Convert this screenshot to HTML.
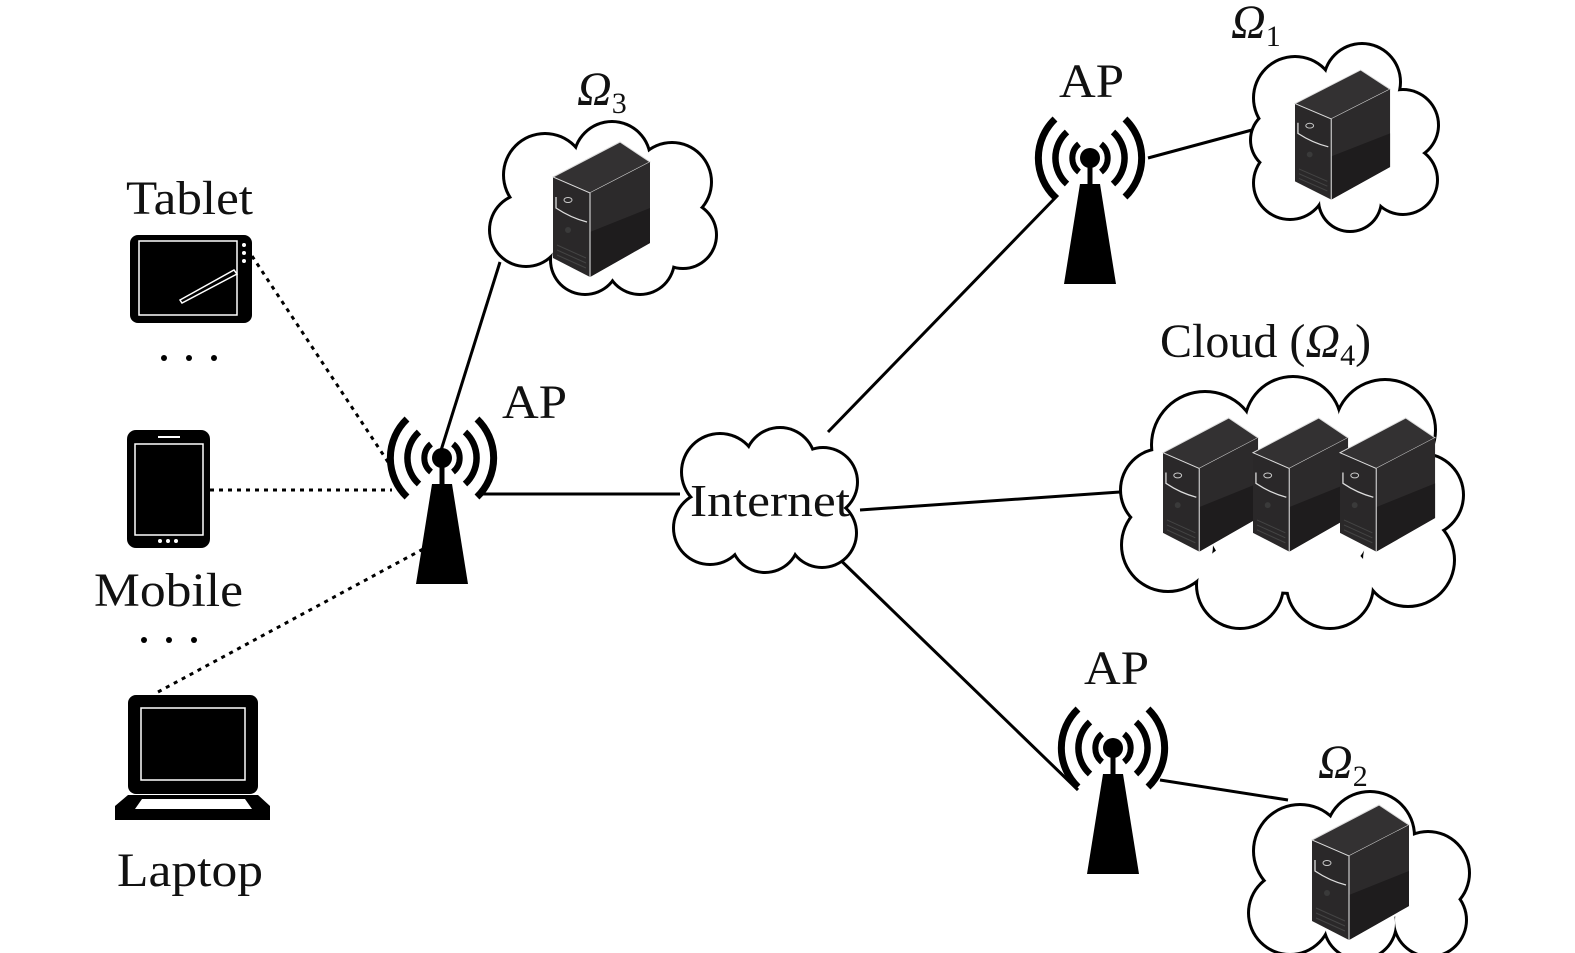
<!DOCTYPE html>
<html><head><meta charset="utf-8"><style>
html,body{margin:0;padding:0;background:#fff;}
svg{display:block;}
text{font-family:"Liberation Serif",serif;fill:#111;}
</style></head><body>
<svg width="1575" height="953" viewBox="0 0 1575 953" xmlns="http://www.w3.org/2000/svg">
<defs>
<g id="srv">
  <polygon points="0,35 37,51 37,135 0,116" fill="#2a2829"/>
  <polygon points="0,35 67,0 97,20 37,51" fill="#333132" stroke="#ddd" stroke-width="1"/>
  <polygon points="37,51 97,20 97,101 37,135" fill="#2c2a2b"/>
  <polygon points="37,90 97,66 97,101 37,135" fill="#1e1c1d"/>
  <line x1="37" y1="51" x2="37" y2="135" stroke="#ccc" stroke-width="1.2"/>
  <path d="M3,55 L3,66 Q18,76 34,80" fill="none" stroke="#ddd" stroke-width="1.3"/>
  <ellipse cx="15" cy="58" rx="4" ry="2.5" fill="none" stroke="#ccc" stroke-width="1"/>
  <circle cx="15" cy="88" r="3" fill="#3a3a3a"/>
  <path d="M4,103 L33,116 M4,108 L33,121 M4,113 L33,126" stroke="#444" stroke-width="1"/>
</g>
<g id="ap">
  <g fill="none" stroke="#000" stroke-linecap="butt">
    <path d="M-11,-14 A18,18 0 0 0 -11,14 M11,-14 A18,18 0 0 1 11,14" stroke-width="6"/>
    <path d="M-23,-26 A35,35 0 0 0 -23,26 M23,-26 A35,35 0 0 1 23,26" stroke-width="6.5"/>
    <path d="M-35,-39 A54,54 0 0 0 -35,39 M35,-39 A54,54 0 0 1 35,39" stroke-width="7"/>
  </g>
  <circle cx="0" cy="0" r="10" fill="#000"/>
  <rect x="-2.5" y="0" width="5" height="28" fill="#000"/>
  <polygon points="-10,26 10,26 26,126 -26,126" fill="#000"/>
</g>
</defs>

<g stroke="#000" stroke-width="3" fill="none">
  <line x1="480" y1="494" x2="680" y2="494"/>
  <line x1="438" y1="460" x2="500" y2="262"/>
  <line x1="828" y1="432" x2="1058" y2="195"/>
  <line x1="860" y1="510" x2="1120" y2="492"/>
  <line x1="828" y1="548" x2="1078" y2="790"/>
  <line x1="1148" y1="158" x2="1252" y2="130"/>
  <line x1="1160" y1="780" x2="1288" y2="800"/>
</g>
<g stroke="#000" stroke-width="3" fill="none" stroke-dasharray="4,5">
  <line x1="252" y1="256" x2="390" y2="465"/>
  <line x1="210" y1="490" x2="392" y2="490"/>
  <line x1="158" y1="692" x2="425" y2="548"/>
</g>

<g>
 <g fill="#000"><circle cx="545" cy="175" r="43"/><circle cx="612" cy="160" r="40"/><circle cx="672" cy="182" r="41"/><circle cx="683" cy="235" r="35"/><circle cx="640" cy="260" r="36"/><circle cx="585" cy="260" r="36"/><circle cx="526" cy="230" r="38"/><circle cx="602" cy="210" r="60"/></g>
 <g fill="#fff"><circle cx="545" cy="175" r="40"/><circle cx="612" cy="160" r="37"/><circle cx="672" cy="182" r="38"/><circle cx="683" cy="235" r="32"/><circle cx="640" cy="260" r="33"/><circle cx="585" cy="260" r="33"/><circle cx="526" cy="230" r="35"/><circle cx="602" cy="210" r="57"/></g>
</g>
<g>
 <g fill="#000"><circle cx="1295" cy="98" r="43"/><circle cx="1362" cy="82" r="40"/><circle cx="1403" cy="125" r="37"/><circle cx="1403" cy="180" r="36"/><circle cx="1350" cy="200" r="33"/><circle cx="1290" cy="183" r="38"/><circle cx="1282" cy="140" r="33"/><circle cx="1345" cy="140" r="55"/></g>
 <g fill="#fff"><circle cx="1295" cy="98" r="40"/><circle cx="1362" cy="82" r="37"/><circle cx="1403" cy="125" r="34"/><circle cx="1403" cy="180" r="33"/><circle cx="1350" cy="200" r="30"/><circle cx="1290" cy="183" r="35"/><circle cx="1282" cy="140" r="30"/><circle cx="1345" cy="140" r="52"/></g>
</g>
<g>
 <g fill="#000"><circle cx="1205" cy="445" r="55"/><circle cx="1293" cy="425" r="50"/><circle cx="1385" cy="430" r="52"/><circle cx="1422" cy="495" r="43"/><circle cx="1408" cy="560" r="48"/><circle cx="1330" cy="585" r="45"/><circle cx="1240" cy="585" r="45"/><circle cx="1168" cy="545" r="48"/><circle cx="1162" cy="490" r="43"/><circle cx="1290" cy="505" r="90"/></g>
 <g fill="#fff"><circle cx="1205" cy="445" r="52"/><circle cx="1293" cy="425" r="47"/><circle cx="1385" cy="430" r="49"/><circle cx="1422" cy="495" r="40"/><circle cx="1408" cy="560" r="45"/><circle cx="1330" cy="585" r="42"/><circle cx="1240" cy="585" r="42"/><circle cx="1168" cy="545" r="45"/><circle cx="1162" cy="490" r="40"/><circle cx="1290" cy="505" r="87"/></g>
</g>
<g transform="translate(0,8)">
 <g fill="#000"><circle cx="1300" cy="843" r="48"/><circle cx="1370" cy="828" r="46"/><circle cx="1428" cy="865" r="43"/><circle cx="1430" cy="912" r="38"/><circle cx="1360" cy="915" r="38"/><circle cx="1290" cy="905" r="43"/><circle cx="1360" cy="870" r="55"/></g>
 <g fill="#fff"><circle cx="1300" cy="843" r="45"/><circle cx="1370" cy="828" r="43"/><circle cx="1428" cy="865" r="40"/><circle cx="1430" cy="912" r="35"/><circle cx="1360" cy="915" r="35"/><circle cx="1290" cy="905" r="40"/><circle cx="1360" cy="870" r="52"/></g>
</g>
<g>
 <g fill="#000"><circle cx="720" cy="472" r="40"/><circle cx="780" cy="463" r="37"/><circle cx="823" cy="482" r="36"/><circle cx="822" cy="533" r="36"/><circle cx="765" cy="538" r="36"/><circle cx="710" cy="528" r="38"/><circle cx="766" cy="500" r="50"/></g>
 <g fill="#fff"><circle cx="720" cy="472" r="37"/><circle cx="780" cy="463" r="34"/><circle cx="823" cy="482" r="33"/><circle cx="822" cy="533" r="33"/><circle cx="765" cy="538" r="33"/><circle cx="710" cy="528" r="35"/><circle cx="766" cy="500" r="47"/></g>
</g>

<use href="#srv" transform="translate(553,142)"/>
<use href="#srv" transform="translate(1295,70) scale(0.98,0.96)"/>
<use href="#srv" transform="translate(1312,805)"/>
<use href="#srv" transform="translate(1163,418) scale(0.98,0.99)"/>
<use href="#srv" transform="translate(1253,418) scale(0.98,0.99)"/>
<use href="#srv" transform="translate(1340,418) scale(0.98,0.99)"/>

<use href="#ap" transform="translate(442,458)"/>
<use href="#ap" transform="translate(1090,158)"/>
<use href="#ap" transform="translate(1113,748)"/>

<rect x="130" y="235" width="122" height="88" rx="8" fill="#000"/>
<rect x="139" y="241" width="98" height="74" fill="none" stroke="#fff" stroke-width="1.5"/>
<circle cx="244" cy="245" r="2" fill="#fff"/><circle cx="244" cy="253" r="2" fill="#fff"/><circle cx="244" cy="261" r="2" fill="#fff"/>
<path d="M180,300 L234,270 L237,274 L182,303 Z" fill="none" stroke="#fff" stroke-width="1.5"/>

<rect x="127" y="430" width="83" height="118" rx="9" fill="#000"/>
<rect x="135" y="444" width="68" height="91" fill="none" stroke="#fff" stroke-width="1.5"/>
<line x1="158" y1="437" x2="180" y2="437" stroke="#fff" stroke-width="2"/>
<circle cx="160" cy="541" r="2" fill="#fff"/><circle cx="168" cy="541" r="2" fill="#fff"/><circle cx="176" cy="541" r="2" fill="#fff"/>

<rect x="128" y="695" width="130" height="99" rx="8" fill="#000"/>
<rect x="141" y="708" width="104" height="72" fill="none" stroke="#fff" stroke-width="1.5"/>
<polygon points="128,795 258,795 270,806 270,820 115,820 115,806" fill="#000"/>
<polygon points="142,799 245,799 252,809 135,809" fill="#fff"/>

<g fill="#000"><circle cx="164" cy="358" r="3"/><circle cx="189" cy="358" r="3"/><circle cx="214" cy="358" r="3"/>
<circle cx="144" cy="640" r="3"/><circle cx="169" cy="640" r="3"/><circle cx="194" cy="640" r="3"/></g>

<g font-size="48">
<text x="126" y="214" textLength="127" lengthAdjust="spacingAndGlyphs">Tablet</text>
<text x="94" y="606" textLength="149" lengthAdjust="spacingAndGlyphs">Mobile</text>
<text x="117" y="886" textLength="146" lengthAdjust="spacingAndGlyphs">Laptop</text>
<text x="502" y="418" textLength="65" lengthAdjust="spacingAndGlyphs">AP</text>
<text x="1059" y="97" textLength="65" lengthAdjust="spacingAndGlyphs">AP</text>
<text x="1084" y="684" textLength="65" lengthAdjust="spacingAndGlyphs">AP</text>
<text x="1160" y="357">Cloud (<tspan font-style="italic">Ω</tspan><tspan font-size="30" dy="8">4</tspan><tspan dy="-8">)</tspan></text>
<text x="577" y="105" font-style="italic">Ω<tspan font-style="normal" font-size="30" dy="8">3</tspan></text>
<text x="1231" y="38" font-style="italic">Ω<tspan font-style="normal" font-size="30" dy="8">1</tspan></text>
<text x="1318" y="778" font-style="italic">Ω<tspan font-style="normal" font-size="30" dy="8">2</tspan></text>
<text x="690" y="516" font-size="46" textLength="160" lengthAdjust="spacingAndGlyphs">Internet</text>
</g>
</svg>
</body></html>
